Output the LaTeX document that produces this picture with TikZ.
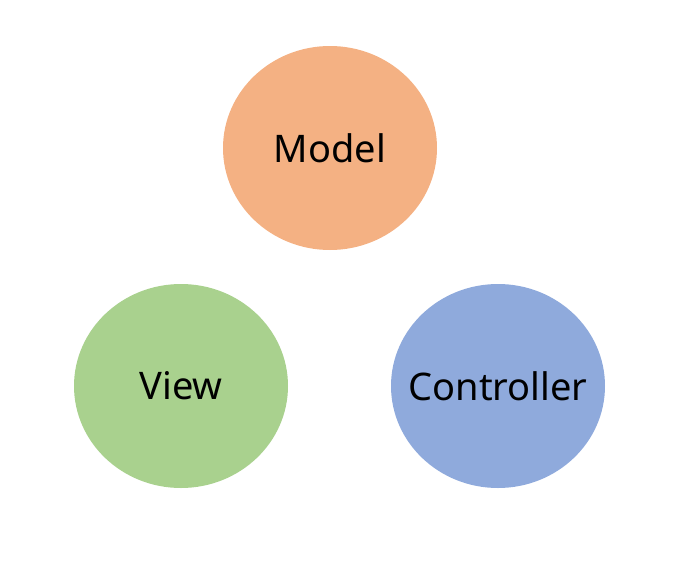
\documentclass[tikz,border=0pt]{standalone}
\usepackage{fontspec}
\setmainfont{Noto Sans}
\usetikzlibrary{shapes.geometric}
\definecolor{modelfill}{HTML}{F4B183}
\definecolor{viewfill}{HTML}{A9D18E}
\definecolor{ctrlfill}{HTML}{8FAADC}
\tikzset{
  part/.style={ellipse,inner sep=0,minimum width=214pt,minimum height=204pt},
  partname/.style={font=\fontsize{38}{44}\selectfont}
}
\begin{document}
\begin{tikzpicture}[x=1pt,y=-1pt]
  \useasboundingbox (0,0) rectangle (686,579);
  % Place nodes
  \node [part,fill=modelfill,label={[partname]center:Model}] (model) at (330,148) {};
  \node [part,fill=viewfill,label={[partname]center:View}] (view) at (181,386) {};
  \node [part,fill=ctrlfill,label={[partname]center:Controller}] (ctrl) at (498,386) {};
\end{tikzpicture}
\end{document}
